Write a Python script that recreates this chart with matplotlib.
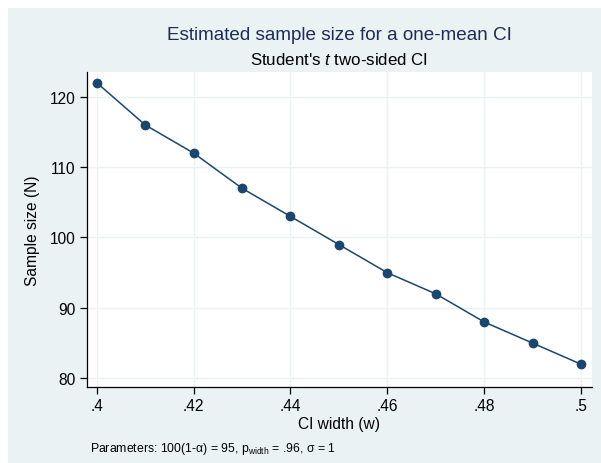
import matplotlib
matplotlib.use("Agg")
import matplotlib.pyplot as plt
from matplotlib.patches import Rectangle

plt.rcParams['font.family'] = ['Liberation Sans', 'DejaVu Sans']
plt.rcParams['mathtext.fontset'] = 'custom'
plt.rcParams['mathtext.rm'] = 'Liberation Sans'
plt.rcParams['mathtext.it'] = 'Liberation Sans:italic'

widths = [0.40, 0.41, 0.42, 0.43, 0.44, 0.45, 0.46, 0.47, 0.48, 0.49, 0.50]
sizes = [122, 116, 112, 107, 103, 99, 95, 92, 88, 85, 82]
xticks = [0.40, 0.42, 0.44, 0.46, 0.48, 0.50]
xticklabels = ['.4', '.42', '.44', '.46', '.48', '.5']
yticks = [80, 90, 100, 110, 120]

W, H = 601, 464
bg = '#EAF2F3'
navy = '#1A476F'

fig = plt.figure(figsize=(W / 100, H / 100), dpi=100, facecolor='white')
fig.patches.append(Rectangle((8 / W, 0), 1 - 8 / W, 1 - 9 / H, transform=fig.transFigure,
                             facecolor=bg, edgecolor='none', zorder=-10))

ax = fig.add_axes([86.7 / W, 1 - 388 / H, (592 - 86.7) / W, (388 - 73.3) / H])
ax.set_facecolor('white')
ax.plot(widths, sizes, color=navy, lw=1.1, marker='o', ms=6, mfc=navy, mec=navy, zorder=3)

ax.set_xlim(0.39794, 0.50227)
ax.set_ylim(78.76, 123.47)
ax.set_xticks(xticks)
ax.set_xticklabels(xticklabels)
ax.set_yticks(yticks)
ax.set_yticklabels([str(v) for v in yticks], rotation=0)
ax.grid(True, color=bg, lw=1.0, zorder=0)
for s in ['top', 'right']:
    ax.spines[s].set_visible(False)
for s in ['left', 'bottom']:
    ax.spines[s].set_color('black')
    ax.spines[s].set_linewidth(0.9)
ax.tick_params(axis='both', direction='out', length=5, width=0.9, color='black',
               labelsize=11.2, pad=3)

ax.set_xlabel('CI width (w)', fontsize=11.2, labelpad=2)
ax.set_ylabel('Sample size (N)', fontsize=11.2, labelpad=7)

cx = (86.7 + 592) / 2 / W
fig.text(cx, 1 - 36 / H, 'Estimated sample size for a one-mean CI', ha='center', va='center',
         fontsize=13.6, color='#1E2D57')
fig.text(cx, 1 - 60 / H, "Student's $t$ two-sided CI", ha='center', va='center',
         fontsize=12.2, color='black')
fig.text(90 / W, 1 - 449 / H,
         'Parameters: 100(1-\u03b1) = 95, p$_{\\mathrm{width}}$ = .96, \u03c3 = 1',
         ha='left', va='center', fontsize=8.8, color='black')

fig.savefig('out.png', dpi=100, facecolor='white')
